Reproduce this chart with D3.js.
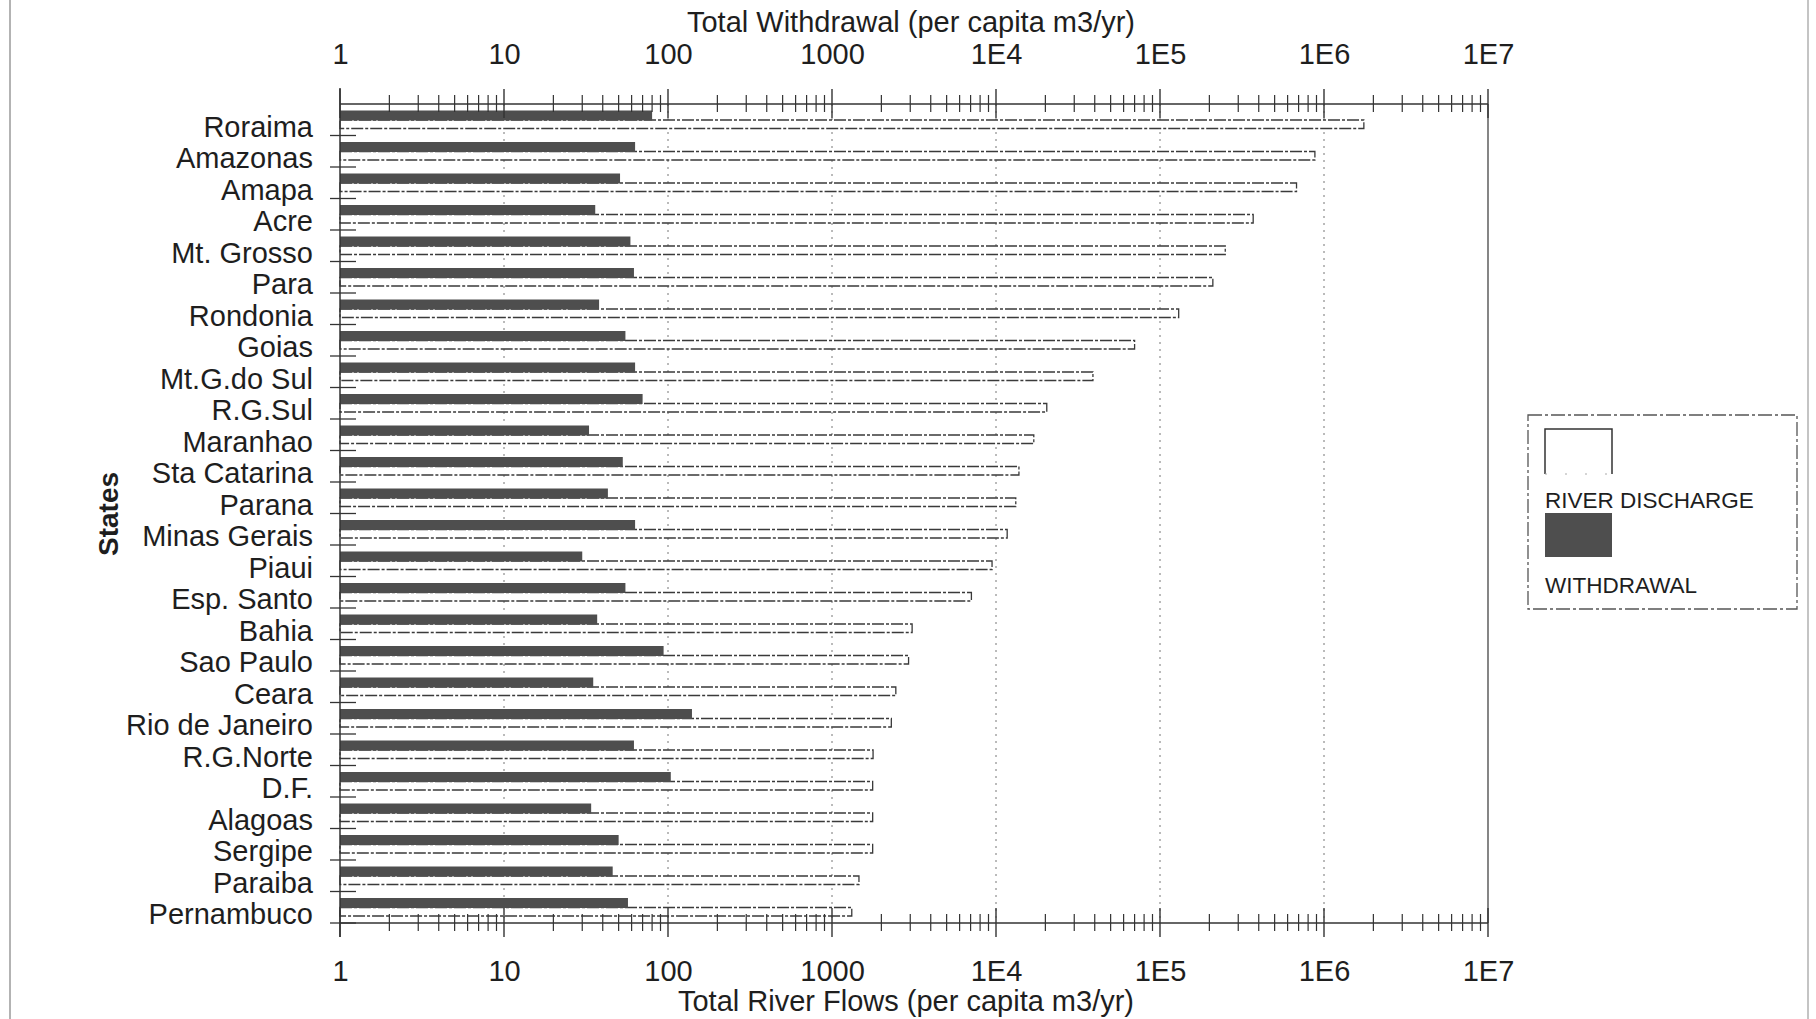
<!DOCTYPE html>
<html>
<head>
<meta charset="utf-8">
<script src="https://cdn.jsdelivr.net/npm/d3@7"></script>
<style>
  html, body { margin: 0; padding: 0; background: #fff; }
  svg { display: block; }
  text { font-family: "Liberation Sans", Arial, sans-serif; fill: #1e1e1e; }
</style>
</head>
<body>
<svg id="chart" width="1816" height="1019"></svg>
<script>
const states = ["Roraima","Amazonas","Amapa","Acre","Mt. Grosso","Para","Rondonia","Goias",
  "Mt.G.do Sul","R.G.Sul","Maranhao","Sta Catarina","Parana","Minas Gerais","Piaui",
  "Esp. Santo","Bahia","Sao Paulo","Ceara","Rio de Janeiro","R.G.Norte","D.F.","Alagoas",
  "Sergipe","Paraiba","Pernambuco"];

// Total withdrawal, per capita m3/yr
const withdrawal = [80, 63, 51, 36, 59, 62, 38, 55, 63, 70, 33, 53, 43, 63, 30, 55, 37,
  94, 35, 140, 62, 104, 34, 50, 46, 57];

// Total river flows (river discharge), per capita m3/yr
const discharge = [1750000, 880000, 680000, 370000, 250000, 210000, 130000, 70000, 39000,
  20400, 17000, 13800, 13200, 11700, 9460, 7080, 3080, 2930, 2450, 2300, 1780, 1770,
  1770, 1770, 1460, 1320];

const tickValues = [1, 10, 100, 1000, 1e4, 1e5, 1e6, 1e7];
const tickLabels = ["1", "10", "100", "1000", "1E4", "1E5", "1E6", "1E7"];

const topTitle = "Total Withdrawal (per capita m3/yr)";
const bottomTitle = "Total River Flows (per capita m3/yr)";
const yTitle = "States";
const legendLabels = ["RIVER DISCHARGE", "WITHDRAWAL"];

const svg = d3.select("#chart");
const W = 1816, H = 1019;
const yTop = 104, yBot = 923;

const x = d3.scaleLog().domain([1, 1e7]).range([340, 1488]);
const y = d3.scaleBand().domain(states).range([yTop, yBot]).paddingInner(0).paddingOuter(0);
const bw = y.bandwidth();

// page frame lines
svg.append("line").attr("x1", 10).attr("x2", 10).attr("y1", 0).attr("y2", H)
  .attr("stroke", "#9a9a9a").attr("stroke-width", 1.5);
svg.append("line").attr("x1", 1808).attr("x2", 1808).attr("y1", 0).attr("y2", H)
  .attr("stroke", "#b0b0b0").attr("stroke-width", 1.5);

// gridlines
svg.append("g").selectAll("line").data(tickValues.slice(1, -1)).join("line")
  .attr("x1", d => x(d)).attr("x2", d => x(d)).attr("y1", yTop).attr("y2", yBot)
  .attr("stroke", "#777").attr("stroke-width", 1).attr("stroke-dasharray", "2,5");
svg.append("line").attr("x1", x(1e7)).attr("x2", x(1e7)).attr("y1", yTop).attr("y2", yBot)
  .attr("stroke", "#444").attr("stroke-width", 1.3);

// bars
const rows = states.map((s, i) => ({ s, w: withdrawal[i], d: discharge[i] }));
const barG = svg.append("g");
barG.selectAll("rect.dis").data(rows).join("rect").attr("class", "dis")
  .attr("x", x(1)).attr("y", d => y(d.s) + 16)
  .attr("width", d => x(d.d) - x(1)).attr("height", 8.5)
  .attr("fill", "#fff").attr("stroke", "#3a3a3a").attr("stroke-width", 1.3)
  .attr("stroke-dasharray", "12,2,3,2");
barG.selectAll("rect.wd").data(rows).join("rect").attr("class", "wd")
  .attr("x", x(1)).attr("y", d => y(d.s) + 6.5)
  .attr("width", d => x(d.w) - x(1)).attr("height", 10)
  .attr("fill", "#4e4e4e");

// left axis line and ticks
svg.append("line").attr("x1", x(1)).attr("x2", x(1)).attr("y1", yTop - 16).attr("y2", yBot + 14)
  .attr("stroke", "#333").attr("stroke-width", 1.5);
svg.append("g").selectAll("line").data(states).join("line")
  .attr("x1", 330).attr("x2", 356)
  .attr("y1", d => y(d) + bw).attr("y2", d => y(d) + bw)
  .attr("stroke", "#333").attr("stroke-width", 1.3);

// state labels
svg.append("g").selectAll("text").data(states).join("text")
  .attr("x", 313).attr("y", d => y(d) + bw + 1)
  .attr("text-anchor", "end").attr("font-size", 29).text(d => d);

// minor ticks helper
const minor = [];
for (let e = 0; e < 7; e++) for (let m = 2; m <= 9; m++) minor.push(m * Math.pow(10, e));

function drawAxisLine(yy) {
  const g = svg.append("g");
  g.append("line").attr("x1", x(1)).attr("x2", x(1e7)).attr("y1", yy).attr("y2", yy)
    .attr("stroke", "#333").attr("stroke-width", 1.5);
  g.selectAll("line.mi").data(minor).join("line").attr("class", "mi")
    .attr("x1", d => x(d)).attr("x2", d => x(d)).attr("y1", yy - 9).attr("y2", yy + 8)
    .attr("stroke", "#333").attr("stroke-width", 1.2);
  g.selectAll("line.ma").data(tickValues).join("line").attr("class", "ma")
    .attr("x1", d => x(d)).attr("x2", d => x(d)).attr("y1", yy - 15).attr("y2", yy + 14)
    .attr("stroke", "#333").attr("stroke-width", 1.4);
}
drawAxisLine(yTop);
drawAxisLine(yBot);

// tick labels via d3 axes
const fmt = (d) => tickLabels[tickValues.indexOf(d)];
const topAxis = svg.append("g").attr("transform", `translate(0,${yTop})`)
  .call(d3.axisTop(x).tickValues(tickValues).tickFormat(fmt).tickSize(0).tickPadding(40));
const botAxis = svg.append("g").attr("transform", `translate(0,${yBot})`)
  .call(d3.axisBottom(x).tickValues(tickValues).tickFormat(fmt).tickSize(0).tickPadding(37));
[topAxis, botAxis].forEach(g => {
  g.select(".domain").remove();
  g.selectAll("text").attr("font-size", 29)
    .attr("font-family", '"Liberation Sans", Arial, sans-serif').attr("fill", "#1e1e1e");
});

// titles
svg.append("text").attr("x", 911).attr("y", 32).attr("text-anchor", "middle")
  .attr("font-size", 29).text(topTitle);
svg.append("text").attr("x", 906).attr("y", 1011).attr("text-anchor", "middle")
  .attr("font-size", 29).text(bottomTitle);
svg.append("text").attr("transform", "translate(118,514) rotate(-90)")
  .attr("text-anchor", "middle").attr("font-size", 28).attr("font-weight", "bold").text(yTitle);

// legend
const lg = svg.append("g");
lg.append("rect").attr("x", 1528).attr("y", 415).attr("width", 269).attr("height", 194)
  .attr("fill", "none").attr("stroke", "#555").attr("stroke-width", 1.3)
  .attr("stroke-dasharray", "14,3,3,3");
lg.append("path").attr("d", "M1545,474 V429 H1612 V474")
  .attr("fill", "none").attr("stroke", "#333").attr("stroke-width", 1.5);
lg.append("line").attr("x1", 1545).attr("x2", 1612).attr("y1", 474).attr("y2", 474)
  .attr("stroke", "#aaa").attr("stroke-width", 1).attr("stroke-dasharray", "2,18");
lg.append("text").attr("x", 1545).attr("y", 508).attr("font-size", 22.5).text(legendLabels[0]);
lg.append("rect").attr("x", 1545).attr("y", 513).attr("width", 67).attr("height", 44)
  .attr("fill", "#4e4e4e");
lg.append("text").attr("x", 1545).attr("y", 593).attr("font-size", 22.5).text(legendLabels[1]);
</script>
</body>
</html>
